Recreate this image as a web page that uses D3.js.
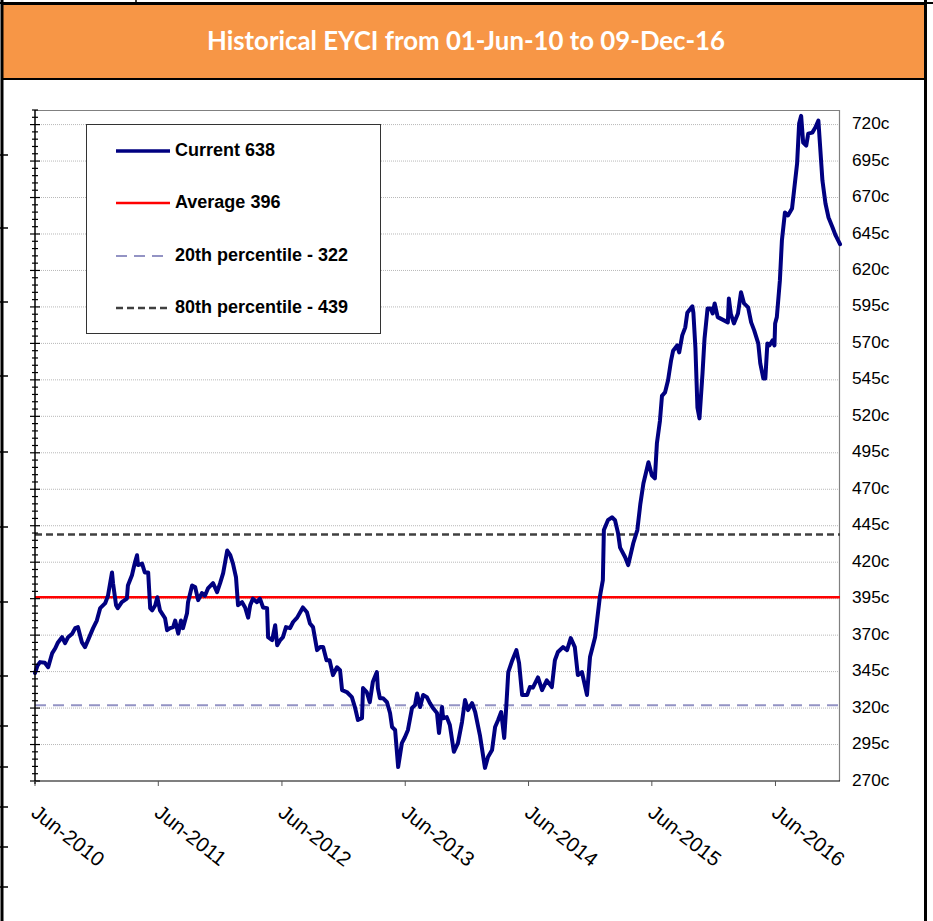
<!DOCTYPE html>
<html><head><meta charset="utf-8">
<script src="https://cdn.jsdelivr.net/npm/d3@7"></script>
<style>body{margin:0;background:#fff}svg{display:block}text{font-family:Arial,"Liberation Sans",sans-serif}</style>
</head><body>
<script>
const titleText = "Historical EYCI from 01-Jun-10 to 09-Dec-16";
const dates = ["2010-06-01","2010-06-08","2010-06-16","2010-06-30","2010-07-10","2010-07-22","2010-07-31","2010-08-08","2010-08-20","2010-08-29","2010-09-07","2010-09-19","2010-09-28","2010-10-06","2010-10-18","2010-10-27","2010-11-05","2010-11-20","2010-12-01","2010-12-11","2010-12-26","2011-01-03","2011-01-15","2011-01-18","2011-01-27","2011-02-01","2011-02-13","2011-02-28","2011-03-03","2011-03-15","2011-03-24","2011-03-30","2011-04-02","2011-04-14","2011-04-22","2011-05-02","2011-05-08","2011-05-14","2011-05-23","2011-05-29","2011-06-06","2011-06-21","2011-06-27","2011-07-06","2011-07-15","2011-07-21","2011-07-30","2011-08-07","2011-08-13","2011-08-25","2011-08-28","2011-09-09","2011-09-18","2011-09-27","2011-10-08","2011-10-17","2011-10-26","2011-11-10","2011-11-22","2011-12-01","2011-12-10","2011-12-22","2011-12-31","2012-01-08","2012-01-17","2012-01-23","2012-02-04","2012-02-13","2012-02-22","2012-02-28","2012-03-07","2012-03-19","2012-03-28","2012-04-06","2012-04-18","2012-04-21","2012-05-03","2012-05-12","2012-05-18","2012-05-27","2012-06-04","2012-06-13","2012-06-25","2012-07-04","2012-07-16","2012-07-25","2012-08-02","2012-08-14","2012-08-23","2012-09-01","2012-09-13","2012-09-22","2012-10-01","2012-10-11","2012-10-20","2012-10-30","2012-11-11","2012-11-20","2012-11-26","2012-12-10","2012-12-25","2013-01-03","2013-01-12","2013-01-24","2013-01-27","2013-02-07","2013-02-16","2013-02-25","2013-03-09","2013-03-12","2013-03-18","2013-03-27","2013-04-08","2013-04-17","2013-04-23","2013-05-02","2013-05-11","2013-05-22","2013-05-31","2013-06-09","2013-06-21","2013-06-30","2013-07-06","2013-07-15","2013-07-24","2013-08-04","2013-08-13","2013-08-22","2013-09-03","2013-09-09","2013-09-18","2013-09-21","2013-10-02","2013-10-11","2013-10-23","2013-11-04","2013-11-16","2013-11-25","2013-12-04","2013-12-16","2013-12-25","2014-01-08","2014-01-23","2014-02-01","2014-02-13","2014-02-22","2014-03-03","2014-03-12","2014-03-21","2014-03-27","2014-04-02","2014-04-14","2014-04-26","2014-05-04","2014-05-13","2014-05-28","2014-06-05","2014-06-14","2014-06-29","2014-07-11","2014-07-25","2014-08-09","2014-08-18","2014-08-27","2014-09-11","2014-09-23","2014-10-04","2014-10-16","2014-10-25","2014-11-06","2014-11-21","2014-11-30","2014-12-15","2014-12-29","2015-01-07","2015-01-10","2015-01-22","2015-02-03","2015-02-12","2015-02-21","2015-02-27","2015-03-14","2015-03-23","2015-04-07","2015-04-19","2015-04-28","2015-05-07","2015-05-22","2015-06-01","2015-06-10","2015-06-16","2015-06-25","2015-07-01","2015-07-10","2015-07-19","2015-07-28","2015-08-03","2015-08-15","2015-08-21","2015-08-30","2015-09-08","2015-09-14","2015-09-29","2015-10-02","2015-10-08","2015-10-14","2015-10-20","2015-10-29","2015-11-04","2015-11-13","2015-11-22","2015-11-28","2015-12-04","2015-12-13","2016-01-12","2016-01-15","2016-01-21","2016-01-30","2016-02-11","2016-02-20","2016-02-29","2016-03-12","2016-03-21","2016-03-30","2016-04-11","2016-04-17","2016-04-26","2016-05-02","2016-05-08","2016-05-14","2016-05-23","2016-05-29","2016-05-31","2016-06-05","2016-06-14","2016-06-20","2016-06-29","2016-07-08","2016-07-20","2016-07-26","2016-08-04","2016-08-10","2016-08-16","2016-08-22","2016-08-31","2016-09-06","2016-09-18","2016-09-27","2016-10-06","2016-10-18","2016-10-27","2016-11-05","2016-11-17","2016-11-26","2016-12-09"];
const values = [344,349,351.5,351,348,357.7,361,365,368.6,364.5,368.6,371,374.8,375.5,365,361.8,366.6,374.8,380,388.5,392,397,413,405.6,390.5,388.5,392.6,395,404,411,420,424.8,418,419,413,413,388.5,387,390.5,396,387,381.6,373.4,374.8,375.5,380,371,380,374.8,385,392.6,404,403,394,398.8,397,402,405.6,399.5,405.6,412.5,428,424.8,419,409.7,390.5,392.6,389,382,390.5,395,392.6,395,389,388.5,368.6,366.6,376.8,363,366.6,368.6,375.5,374.8,379,382,385.7,389,385.7,378,375.5,359.7,361.8,361.8,352.8,352.8,342.6,348,346,332.3,331,327.5,320.7,311.8,313,333.7,331,324,337.8,344.7,333.7,326.8,326.8,324,316.6,307,305,279.6,296,300,305,320,322,330,320.7,329,327.5,323.4,320,316.6,302.9,320.7,313,313.8,308.4,290,296,310.4,325.5,318.6,323.4,317.3,301.5,279,286.4,291.2,307,311.8,317.3,299.5,320.7,344.7,352.8,359.7,350.8,329,329,334.4,334,341,332.3,339,334.4,352.8,358.4,361.8,359.7,368,361.8,342.6,344.7,329,355,368.6,396,407.7,442,448.8,450.8,448.8,439.9,430,423.4,418,433,442,460,474,488.5,479.6,477.5,501.5,517,534,536.4,544.7,558.4,565,568.6,563.8,575.5,581,591,595.4,591,567,526,518.6,549.5,573.4,594,594,590.5,597.4,588,584.4,600.8,590,583.7,590.5,605,597.4,594.7,584.4,578.9,570,556.3,546,546,570,568.6,572,568.6,583.7,588,613,640.5,659.7,657.7,662.5,674.8,693.3,720.7,726,707.7,705.6,713.8,714.5,718,722.7,681.6,665.9,656.3,649.5,644,638];
const refNames = ["Current 638","Average 396","20th percentile - 322","80th percentile - 439"];
const refValues = [396, 322, 439];
const yTicks = [270,295,320,345,370,395,420,445,470,495,520,545,570,595,620,645,670,695,720];
const xTickLabels = ["Jun-2010","Jun-2011","Jun-2012","Jun-2013","Jun-2014","Jun-2015","Jun-2016"];

const W = 933, H = 921;
const svg = d3.select("body").append("svg").attr("width", W).attr("height", H);
const parse = d3.timeParse("%Y-%m-%d");
const data = dates.map((d, i) => ({ date: parse(d), value: values[i] }));
const FONT = "Arial, 'Liberation Sans', sans-serif";

// outer frame (spreadsheet borders)
svg.append("rect").attr("x", 2).attr("y", 4).attr("width", 924).attr("height", 75)
  .attr("fill", "#F79646").attr("stroke", "#000").attr("stroke-width", 2);
svg.append("line").attr("x1", 0).attr("x2", W).attr("y1", 3).attr("y2", 3).attr("stroke", "#000").attr("stroke-width", 2);
svg.append("line").attr("x1", 136).attr("x2", 136).attr("y1", 0).attr("y2", 4).attr("stroke", "#000").attr("stroke-width", 1.5);
svg.append("line").attr("x1", 2).attr("x2", 2).attr("y1", 0).attr("y2", H).attr("stroke", "#000").attr("stroke-width", 3);
svg.append("line").attr("x1", 925.5).attr("x2", 925.5).attr("y1", 0).attr("y2", H).attr("stroke", "#000").attr("stroke-width", 3);
[155,228,302,376,452,527,602,676,726,767,807,847,887].forEach(y => {
  svg.append("line").attr("x1", 0).attr("x2", 8).attr("y1", y).attr("y2", y).attr("stroke", "#000").attr("stroke-width", 1.5);
});

svg.append("text").attr("x", 466).attr("y", 43).attr("text-anchor", "middle").attr("dominant-baseline", "middle")
  .attr("fill", "#fff").style("font-family", "Lato, 'Open Sans', sans-serif").attr("font-weight", "bold")
  .attr("font-size", 25.8).text(titleText);

// scales
const x = d3.scaleTime().domain([parse("2010-06-01"), parse("2016-12-09")]).range([35, 840]);
const y = d3.scaleLinear().domain([270, 730]).range([781, 110]);

// gridlines
svg.append("g").selectAll("line").data(yTicks.slice(1)).join("line")
  .attr("x1", 35).attr("x2", 840).attr("y1", d => y(d)).attr("y2", d => y(d))
  .attr("stroke", "#b8b8b8").attr("stroke-width", 1).attr("stroke-dasharray", "1,1");

// plot border top/right
svg.append("path").attr("d", `M35,110.5H839.5V781`).attr("fill", "none").attr("stroke", "#808080").attr("stroke-width", 1.2);

// reference lines
const refStyles = [
  { color: "#ff0000", width: 2.5, dash: null },
  { color: "#9393c4", width: 2, dash: "11,7" },
  { color: "#404040", width: 2.5, dash: "7,4" }
];
refValues.forEach((v, i) => {
  const s = refStyles[i];
  svg.append("line").attr("x1", 35).attr("x2", 840).attr("y1", y(v)).attr("y2", y(v))
    .attr("stroke", s.color).attr("stroke-width", s.width).attr("stroke-dasharray", s.dash);
});

// main line
const line = d3.line().x(d => x(d.date)).y(d => y(d.value));
svg.append("path").datum(data).attr("d", line).attr("fill", "none")
  .attr("stroke", "#000080").attr("stroke-width", 4).attr("stroke-linejoin", "round").attr("stroke-linecap", "round");

// left axis with minor ticks
const minor = d3.range(270, 731, 5);
const lg = svg.append("g");
lg.selectAll("line.mi").data(minor).join("line")
  .attr("x1", d => (d % 25 === 20) ? 30 : 32).attr("x2", d => (d % 25 === 20) ? 40 : 38)
  .attr("y1", d => y(d)).attr("y2", d => y(d)).attr("stroke", "#000").attr("stroke-width", 1.2);
lg.append("line").attr("x1", 35).attr("x2", 35).attr("y1", 110).attr("y2", 784).attr("stroke", "#000").attr("stroke-width", 1.5);

// bottom axis
const xTickDates = xTickLabels.map(s => d3.timeParse("%b-%Y")(s));
svg.append("line").attr("x1", 35).attr("x2", 840).attr("y1", 781).attr("y2", 781).attr("stroke", "#000").attr("stroke-width", 1.2);
svg.append("g").selectAll("line").data(xTickDates).join("line")
  .attr("x1", d => x(d)).attr("x2", d => x(d)).attr("y1", 781).attr("y2", 786).attr("stroke", "#555").attr("stroke-width", 1);
svg.append("g").selectAll("text").data(xTickLabels).join("text")
  .attr("transform", (d, i) => `translate(${x(xTickDates[i]) - 5},${815}) rotate(38)`)
  .style("font-family", FONT).attr("font-size", 20.5).attr("fill", "#000")
  .text(d => d);

// right labels
svg.append("g").selectAll("text").data(yTicks).join("text")
  .attr("x", 852).attr("y", d => y(d)).attr("dominant-baseline", "middle")
  .style("font-family", FONT).attr("font-size", 17.3).attr("fill", "#000")
  .text(d => d + "c");

// legend
const lgd = svg.append("g");
lgd.append("rect").attr("x", 86.5).attr("y", 124.5).attr("width", 294).attr("height", 209)
  .attr("fill", "#fff").attr("stroke", "#333").attr("stroke-width", 1);
const legStyles = [
  { color: "#000080", width: 3.5, dash: null },
  ...refStyles
];
const legY = [151, 203, 256, 308];
refNames.forEach((n, i) => {
  const s = legStyles[i];
  lgd.append("line").attr("x1", 116).attr("x2", 170).attr("y1", legY[i]).attr("y2", legY[i])
    .attr("stroke", s.color).attr("stroke-width", s.width).attr("stroke-dasharray", s.dash);
  lgd.append("text").attr("x", 175).attr("y", legY[i]).attr("dominant-baseline", "middle")
    .style("font-family", FONT).attr("font-weight", "bold")
    .attr("font-size", 18).attr("fill", "#000").text(n);
});
</script>
</body></html>
